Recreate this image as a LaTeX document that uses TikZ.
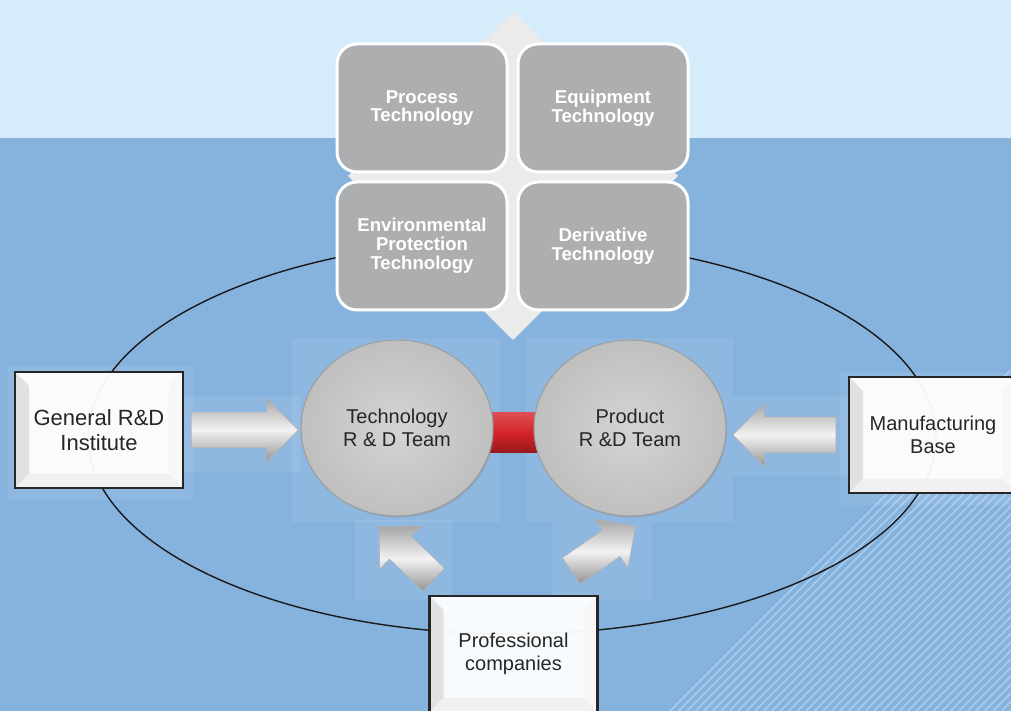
\documentclass[tikz,border=0pt]{standalone}
\usepackage{fontspec}
\setmainfont{Liberation Sans}
\usetikzlibrary{positioning, shapes.geometric, shapes.arrows, backgrounds, calc, shadows}
\pgfdeclarelayer{bar}
\pgfsetlayers{background,bar,main}
\definecolor{skyblue}{HTML}{D6ECFA}
\definecolor{seablue}{HTML}{86B2DE}
\definecolor{stripeblue}{HTML}{A9CCEE}
\definecolor{tilegray}{HTML}{ADAEB0}
\definecolor{diamondgray}{HTML}{EBEBEC}
\definecolor{barred}{HTML}{D42328}

\begin{document}
\begin{tikzpicture}[x=0.5pt, y=0.5pt,
  tile/.style={draw=white, line width=1.5pt, fill=tilegray, rounded corners=10pt, minimum width=85pt, minimum height=64pt, align=center, text=white, font=\bfseries\fontsize{9.3}{9.4}\selectfont},
  team/.style={ellipse, draw=black!38, line width=0.5pt, inner color=black!17, outer color=black!25, minimum width=96pt, minimum height=88pt, inner sep=0pt, align=center, text=black!85, font=\fontsize{10}{11.7}\selectfont, drop shadow={opacity=0.3, shadow xshift=0.6pt, shadow yshift=-0.8pt}},
  bevelbox/.style={draw=black!85, line width=1.2pt, fill=white, fill opacity=0.95, text opacity=1, minimum width=84pt, minimum height=58pt, align=center, text=black!85, font=\fontsize{10}{11.7}\selectfont,
    path picture={
      \coordinate (bsw) at (path picture bounding box.south west);
      \coordinate (bne) at (path picture bounding box.north east);
      \coordinate (bnw) at (bsw|-bne);
      \coordinate (bse) at (bne|-bsw);
      \fill[black!12] (bsw) -- (bnw) -- ($(bnw)+(7pt,-7pt)$) -- ($(bsw)+(7pt,7pt)$) -- cycle;
      \fill[black!6] (bsw) -- (bse) -- ($(bse)+(-7pt,7pt)$) -- ($(bsw)+(7pt,7pt)$) -- cycle;
      \fill[black!3] (bse) -- (bne) -- ($(bne)+(-7pt,-7pt)$) -- ($(bse)+(-7pt,7pt)$) -- cycle;
    }},
  blockarrow/.style={single arrow, single arrow head extend=7pt, single arrow tip angle=90, minimum width=31.5pt, inner xsep=0pt, inner ysep=8.75pt, draw=black!30, line width=0.3pt, top color=black!35, bottom color=black!42, middle color=white!95!black, sloped, allow upside down},
  halo/.style={fill=white, fill opacity=0.08},
  redbar/.style={minimum width=26pt, minimum height=20pt, inner sep=0pt, top color=barred!80!white, bottom color=barred!70!black, middle color=barred}]
  \useasboundingbox (0,0) rectangle (1011,711);
  \begin{scope}[on background layer]
    \fill[seablue] (0,0) rectangle (1011,711);
    \fill[skyblue] (0,573) rectangle (1011,711);
    \foreach \k in {0,...,40}
      \draw[stripeblue, line width=0.8pt] (670+8.5*\k,0) -- ++(400,400);
    \fill[halo] (292,189) rectangle (500,373);
    \fill[halo] (526,189) rectangle (733,373);
    \fill[halo] (183,239) rectangle (300,314);
    \fill[halo] (733,236) rectangle (848,314);
    \fill[halo] (8,211) rectangle (193,345);
    \fill[halo] (840,206) rectangle (1011,339);
    \fill[halo] (355,111) rectangle (452,191);
    \fill[halo] (552,111) rectangle (652,189);
    \draw[black!90, line width=0.7pt] (512,274) ellipse [x radius=212pt, y radius=98.5pt];
  \end{scope}
  \fill[diamondgray] (513,371) -- (678,535) -- (513,699) -- (348,535) -- cycle;

  \node[tile] (proc) at (422,603) {Process\\Technology};
  \node[tile, right=4pt of proc] (equip) {Equipment\\Technology};
  \node[tile, below=3.5pt of proc] (envir) {Environmental\\Protection\\Technology};
  \node[tile, below=3.5pt of equip] (deriv) {Derivative\\Technology};

  \node[team] (tech) at (397,283) {Technology\\R \& D Team};
  \node[team] (prod) at (630,283) {Product\\R \&D Team};
  \node[bevelbox, font=\fontsize{11}{12.4}\selectfont] (gen) at (99,281) {General R\&D\\Institute};
  \node[bevelbox] (manuf) at (933,276) {Manufacturing\\Base};
  \node[bevelbox] (prof) at (513.5,57) {Professional\\companies};

  \begin{pgfonlayer}{bar}
    \path (tech) -- (prod) node[midway, redbar, yshift=-2.5pt] (link) {};
  \end{pgfonlayer}

  \coordinate (blt) at (434,131);
  \coordinate (blh) at (379,184);
  \coordinate (brt) at (571,140);
  \coordinate (brh) at (635,184);
  \path (gen.east) -- (gen.east -| tech.west) node[pos=0.445, blockarrow, minimum height=53.5pt] (ingen) {};
  \path (manuf.west) -- (manuf.west -| prod.east) node[pos=0.45, blockarrow, minimum height=51.5pt] (inmanuf) {};
  \path (blt) -- (blh) node[pos=0.4, blockarrow, minimum height=38pt, minimum width=29.5pt, inner ysep=7.75pt] (inprofa) {};
  \path (brt) -- (brh) node[pos=0.405, blockarrow, minimum height=39pt, minimum width=29.5pt, inner ysep=7.75pt] (inprofb) {};
\end{tikzpicture}
\end{document}
